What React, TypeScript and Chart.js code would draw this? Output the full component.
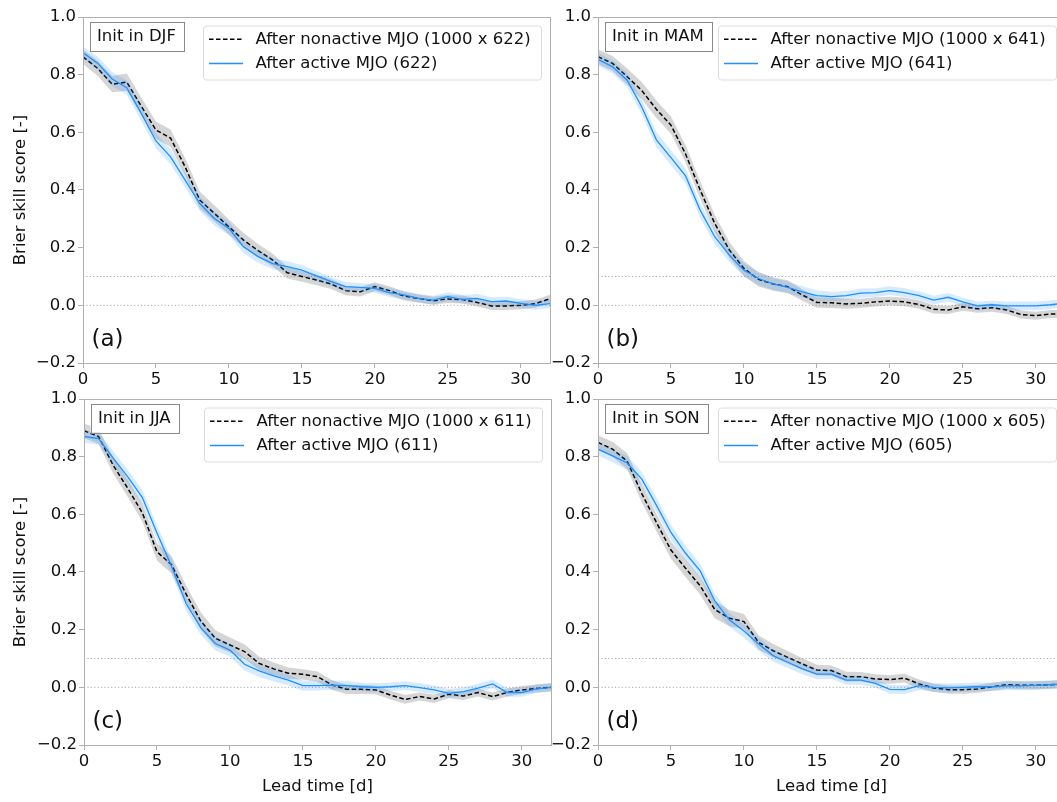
import React, { useEffect, useRef } from "react";
import { Chart, registerables } from "chart.js";

Chart.register(...registerables);

// ---------------- data ----------------
const leadDays = [0, 1, 2, 3, 4, 5, 6, 7, 8, 9, 10, 11, 12, 13, 14, 15, 16, 17, 18, 19, 20, 21, 22, 23, 24, 25, 26, 27, 28, 29, 30, 31, 32];

const xTickValues = [0, 5, 10, 15, 20, 25, 30];
const yTickValues = [-0.2, 0.0, 0.2, 0.4, 0.6, 0.8, 1.0];
const refLevels = [0.1, 0.0];

const djfNonactive = [0.862, 0.822, 0.767, 0.774, 0.69, 0.608, 0.58, 0.48, 0.365, 0.319, 0.272, 0.226, 0.19, 0.157, 0.113, 0.1, 0.088, 0.074, 0.051, 0.047, 0.065, 0.051, 0.032, 0.024, 0.016, 0.022, 0.02, 0.01, -0.002, -0.002, 0.0, 0.006, 0.023];
const djfActive = [0.876, 0.84, 0.785, 0.755, 0.665, 0.57, 0.515, 0.434, 0.353, 0.301, 0.267, 0.203, 0.169, 0.145, 0.134, 0.122, 0.102, 0.082, 0.065, 0.062, 0.059, 0.044, 0.036, 0.024, 0.018, 0.03, 0.021, 0.024, 0.013, 0.015, 0.007, 0.0, 0.006];

const mamNonactive = [0.862, 0.839, 0.793, 0.745, 0.68, 0.625, 0.525, 0.4, 0.284, 0.192, 0.128, 0.09, 0.074, 0.065, 0.036, 0.01, 0.009, 0.005, 0.007, 0.012, 0.015, 0.012, 0.003, -0.014, -0.016, -0.005, -0.012, -0.008, -0.016, -0.032, -0.036, -0.03, -0.03];
const mamActive = [0.853, 0.827, 0.781, 0.688, 0.574, 0.512, 0.449, 0.33, 0.238, 0.174, 0.122, 0.093, 0.074, 0.062, 0.047, 0.034, 0.03, 0.034, 0.042, 0.044, 0.051, 0.044, 0.034, 0.018, 0.028, 0.012, -0.002, 0.002, -0.002, -0.002, -0.002, 0.002, 0.008];

const jjaNonactive = [0.89, 0.87, 0.77, 0.69, 0.605, 0.47, 0.425, 0.323, 0.23, 0.17, 0.147, 0.124, 0.083, 0.064, 0.049, 0.045, 0.037, 0.008, -0.007, -0.007, -0.009, -0.027, -0.042, -0.032, -0.04, -0.024, -0.03, -0.018, -0.032, -0.018, -0.009, -0.004, 0.0];
const jjaActive = [0.87, 0.863, 0.795, 0.73, 0.658, 0.535, 0.42, 0.29, 0.207, 0.152, 0.129, 0.08, 0.057, 0.04, 0.025, 0.006, 0.006, 0.008, 0.006, 0.002, 0.0, 0.002, 0.006, -0.001, -0.009, -0.021, -0.015, -0.003, 0.012, -0.018, -0.018, -0.005, 0.0];

const sonNonactive = [0.849, 0.826, 0.784, 0.672, 0.572, 0.476, 0.413, 0.352, 0.27, 0.24, 0.228, 0.156, 0.127, 0.104, 0.081, 0.06, 0.058, 0.037, 0.037, 0.029, 0.027, 0.032, 0.012, -0.002, -0.008, -0.008, -0.006, 0.002, 0.009, 0.007, 0.007, 0.009, 0.012];
const sonActive = [0.826, 0.803, 0.778, 0.722, 0.632, 0.537, 0.465, 0.404, 0.3, 0.234, 0.195, 0.15, 0.11, 0.087, 0.064, 0.046, 0.046, 0.025, 0.025, 0.014, -0.007, -0.008, 0.006, 0.0, -0.002, 0.0, 0.002, 0.002, 0.005, 0.005, 0.007, 0.009, 0.012];

// half-widths of the shaded uncertainty bands
const nonactiveSpread = [0.025, 0.026, 0.028, 0.03, 0.03, 0.03, 0.03, 0.03, 0.03, 0.028, 0.026, 0.025, 0.023, 0.022, 0.02, 0.018, 0.018, 0.017, 0.016, 0.016, 0.015, 0.015, 0.015, 0.014, 0.014, 0.014, 0.014, 0.014, 0.014, 0.014, 0.014, 0.014, 0.014];
const activeSpread = [0.022, 0.022, 0.024, 0.025, 0.026, 0.026, 0.026, 0.025, 0.025, 0.024, 0.023, 0.022, 0.021, 0.02, 0.019, 0.018, 0.017, 0.016, 0.016, 0.015, 0.015, 0.015, 0.015, 0.015, 0.015, 0.015, 0.015, 0.015, 0.015, 0.015, 0.015, 0.015, 0.015];

const seasons = ["DJF", "MAM", "JJA", "SON"];
const sampleCounts = [622, 641, 611, 605];
const panelLetters = ["(a)", "(b)", "(c)", "(d)"];
const nonactiveSeries = [djfNonactive, mamNonactive, jjaNonactive, sonNonactive];
const activeSeries = [djfActive, mamActive, jjaActive, sonActive];

const yAxisTitle = "Brier skill score [-]";
const xAxisTitle = "Lead time [d]";

// ---------------- layout / style ----------------
const W = 560;
const H = 420;
const PLOT_TOP = 17;
const PLOT_BOTTOM = 363;
const PLOT_W = 467;
const FONT = "DejaVu Sans";
const FS = 16.5;
const SPINE = "#b0b0b0";
const TEXT = "#111111";
const BLUE = "#1e90ff";

const canvasPos = [
  { x: 0, y: 0, plotLeft: 83, leftCol: true, bottomRow: false },
  { x: 520, y: 0, plotLeft: 78, leftCol: false, bottomRow: false },
  { x: 0, y: 382, plotLeft: 84, leftCol: true, bottomRow: true },
  { x: 520, y: 382, plotLeft: 78, leftCol: false, bottomRow: true },
];

function fmtY(v: number) {
  if (Math.abs(v) < 1e-9) return "0.0";
  return (v < 0 ? "\u2212" : "") + Math.abs(v).toFixed(1);
}

function Panel({ idx }: { idx: number }) {
  const ref = useRef<HTMLCanvasElement>(null);
  const pos = canvasPos[idx];

  useEffect(() => {
    if (!ref.current) return;
    const nonactive = nonactiveSeries[idx];
    const active = activeSeries[idx];
    const pts = (arr: number[], spread?: number[], sign = 0) =>
      leadDays.map((d, i) => ({ x: d, y: arr[i] + (spread ? sign * spread[i] : 0) }));

    const noLine = "rgba(0,0,0,0)";
    const datasets: any[] = [
      // 0,1 reference dotted lines
      ...refLevels.map((lv) => ({
        data: [{ x: 0, y: lv }, { x: 32, y: lv }],
        borderColor: "#a0a0a0",
        borderWidth: 0.9,
        borderDash: [1.2, 2.2],
        pointRadius: 0,
        fill: false,
        order: 20,
      })),
      // 2,3 grey band
      {
        data: pts(nonactive, nonactiveSpread, 1),
        borderColor: noLine,
        backgroundColor: "rgba(128,128,128,0.33)",
        pointRadius: 0,
        fill: "+1",
        order: 10,
      },
      {
        data: pts(nonactive, nonactiveSpread, -1),
        borderColor: noLine,
        pointRadius: 0,
        fill: false,
        order: 10,
      },
      // 4 black dashed
      {
        data: pts(nonactive),
        borderColor: "#000000",
        borderWidth: 1.5,
        borderDash: [4.5, 2.5],
        pointRadius: 0,
        fill: false,
        order: 8,
      },
      // 5,6 blue band
      {
        data: pts(active, activeSpread, 1),
        borderColor: noLine,
        backgroundColor: "rgba(30,144,255,0.18)",
        pointRadius: 0,
        fill: "+1",
        order: 6,
      },
      {
        data: pts(active, activeSpread, -1),
        borderColor: noLine,
        pointRadius: 0,
        fill: false,
        order: 6,
      },
      // 7 blue line
      {
        data: pts(active),
        borderColor: BLUE,
        borderWidth: 1.3,
        pointRadius: 0,
        fill: false,
        order: 4,
      },
    ];

    const decor = {
      id: "decor",
      afterDraw(chart: any) {
        const ctx = chart.ctx as CanvasRenderingContext2D;
        const a = chart.chartArea;
        ctx.save();
        // frame
        ctx.strokeStyle = SPINE;
        ctx.lineWidth = 1;
        ctx.setLineDash([]);
        ctx.strokeRect(Math.round(a.left) + 0.5, Math.round(a.top) + 0.5, Math.round(a.right - a.left), Math.round(a.bottom - a.top));

        ctx.font = `${FS}px "${FONT}"`;
        ctx.textBaseline = "middle";
        ctx.textAlign = "left";

        // Init box
        const initText = "Init in " + seasons[idx];
        const tw = ctx.measureText(initText).width;
        const bx = a.left + 6.5;
        const by = a.top + 4.5;
        ctx.fillStyle = "#ffffff";
        ctx.fillRect(bx, by, tw + 15, 29);
        ctx.strokeStyle = "#8a8a8a";
        ctx.strokeRect(Math.round(bx) + 0.5, Math.round(by) + 0.5, Math.round(tw + 15), 29);
        ctx.fillStyle = TEXT;
        ctx.fillText(initText, bx + 7.5, by + 15);

        // Legend
        const lx = a.left + 120;
        const ly = a.top + 8.5;
        const lw = a.right - 9 - lx;
        const lh = 54;
        ctx.beginPath();
        (ctx as any).roundRect(lx + 0.5, ly + 0.5, lw, lh, 3);
        ctx.fillStyle = "rgba(255,255,255,0.85)";
        ctx.fill();
        ctx.strokeStyle = "#dcdcdc";
        ctx.stroke();
        const r1 = a.top + 22.3;
        const r2 = a.top + 46.5;
        ctx.beginPath();
        ctx.setLineDash([4.5, 2.5]);
        ctx.strokeStyle = "#000";
        ctx.lineWidth = 1.5;
        ctx.moveTo(lx + 6, r1);
        ctx.lineTo(lx + 40, r1);
        ctx.stroke();
        ctx.setLineDash([]);
        ctx.beginPath();
        ctx.strokeStyle = BLUE;
        ctx.lineWidth = 1.3;
        ctx.moveTo(lx + 6, r2);
        ctx.lineTo(lx + 40, r2);
        ctx.stroke();
        ctx.fillStyle = TEXT;
        ctx.fillText(`After nonactive MJO (1000 x ${sampleCounts[idx]})`, lx + 52.5, r1);
        ctx.fillText(`After active MJO (${sampleCounts[idx]})`, lx + 52.5, r2);

        // panel letter
        ctx.font = `23px "${FONT}"`;
        ctx.fillText(panelLetters[idx], a.left + 8.5, a.bottom - 23);

        // axis titles
        ctx.font = `${FS}px "${FONT}"`;
        ctx.textAlign = "center";
        if (pos.leftCol) {
          ctx.save();
          ctx.translate(21 - pos.x, (a.top + a.bottom) / 2);
          ctx.rotate(-Math.PI / 2);
          ctx.fillText(yAxisTitle, 0, 0);
          ctx.restore();
        }
        if (pos.bottomRow) {
          ctx.fillText(xAxisTitle, (a.left + a.right) / 2, 787 - pos.y);
        }
        ctx.restore();
      },
    };

    const plotRight = pos.plotLeft + PLOT_W;
    const chart = new Chart(ref.current, {
      type: "line",
      data: { datasets },
      plugins: [decor],
      options: {
        animation: false,
        responsive: false,
        maintainAspectRatio: false,
        events: [],
        layout: { padding: { left: 0, top: PLOT_TOP, right: W - plotRight, bottom: 0 } },
        plugins: { legend: { display: false }, tooltip: { enabled: false }, title: { display: false } },
        scales: {
          x: {
            type: "linear",
            min: 0,
            max: 32,
            afterBuildTicks: (s: any) => {
              s.ticks = xTickValues.map((v) => ({ value: v }));
            },
            afterFit: (s: any) => {
              s.height = H - PLOT_BOTTOM;
            },
            ticks: {
              autoSkip: false,
              maxRotation: 0,
              padding: 2,
              color: TEXT,
              font: { family: FONT, size: FS },
              callback: (v: any) => String(v),
            },
            grid: { display: true, drawOnChartArea: false, drawTicks: true, tickLength: 5, color: SPINE },
            border: { display: true, color: SPINE },
          },
          y: {
            type: "linear",
            min: -0.2,
            max: 1.0,
            afterBuildTicks: (s: any) => {
              s.ticks = yTickValues.map((v) => ({ value: v }));
            },
            afterFit: (s: any) => {
              s.width = pos.plotLeft;
            },
            ticks: {
              autoSkip: false,
              padding: 2,
              color: TEXT,
              font: { family: FONT, size: FS },
              callback: (v: any) => fmtY(Number(v)),
            },
            grid: { display: true, drawOnChartArea: false, drawTicks: true, tickLength: 5, color: SPINE },
            border: { display: true, color: SPINE },
          },
        },
      } as any,
    });
    return () => chart.destroy();
  }, [idx]);

  return (
    <canvas
      ref={ref}
      width={W}
      height={H}
      style={{ position: "absolute", left: pos.x, top: pos.y, width: W, height: H }}
    />
  );
}

export default function App() {
  return (
    <div
      style={{
        position: "fixed",
        left: 0,
        top: 0,
        width: 1057,
        height: 802,
        overflow: "hidden",
        background: "#ffffff",
      }}
    >
      {[0, 1, 2, 3].map((i) => (
        <Panel key={i} idx={i} />
      ))}
    </div>
  );
}
